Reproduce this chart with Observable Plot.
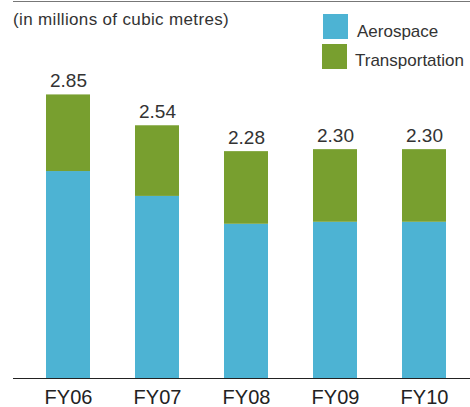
<!DOCTYPE html>
<html>
<head>
<meta charset="utf-8">
<script src="https://cdn.jsdelivr.net/npm/d3@7"></script>
<script src="https://cdn.jsdelivr.net/npm/@observablehq/plot@0.6"></script>
<style>
  html, body { margin: 0; padding: 0; background: #fff; }
  #wrap { position: relative; width: 470px; height: 407px; overflow: hidden;
          font-family: "Liberation Sans", Arial, Helvetica, sans-serif; color: #333; }
  #chart { position: absolute; left: 0; top: 0; }
  .abs { position: absolute; white-space: nowrap; }
  .sw { position: absolute; width: 25px; height: 25px; }
</style>
</head>
<body>
<div id="wrap">
  <div id="chart"></div>
  <div class="abs" style="left:13px; top:1px; width:457px; height:0; border-top:1.2px solid #777;"></div>
  <div class="abs" id="subtitle" style="left:13px; top:11px; font-size:17px; line-height:17px; letter-spacing:0.35px;"></div>
  <div id="legend"></div>
</div>
<script>
// ---- data ----
const years = ["FY06", "FY07", "FY08", "FY09", "FY10"];
const aerospace = [2.08, 1.83, 1.55, 1.57, 1.57];
const transportation = [0.77, 0.71, 0.73, 0.73, 0.73];
const totals = [2.85, 2.54, 2.28, 2.30, 2.30];
const seriesNames = ["Aerospace", "Transportation"];
const seriesColors = ["#4db3d3", "#789f2f"];
const subtitleText = "(in millions of cubic metres)";

// long table built from the arrays
const rows = [];
years.forEach((y, i) => {
  rows.push({year: y, segment: seriesNames[0], value: aerospace[i]});
  rows.push({year: y, segment: seriesNames[1], value: transportation[i]});
});

const chart = Plot.plot({
  width: 470,
  height: 407,
  marginLeft: 13,
  marginRight: 0,
  marginTop: 0,
  marginBottom: 29,
  style: {fontFamily: '"Liberation Sans", Arial, Helvetica, sans-serif', color: "#333", background: "transparent", overflow: "visible"},
  x: {type: "band", domain: years, range: [45, 446], paddingInner: 0.507, paddingOuter: 0, axis: null},
  y: {domain: [0, 3.5], range: [378, 378 - 3.5 * 99.5], axis: null},
  color: {domain: seriesNames, range: seriesColors},
  marks: [
    Plot.barY(rows, {x: "year", y: "value", fill: "segment", insetLeft: 0, insetRight: 0}),
    Plot.text(totals, {x: years, y: totals, text: totals.map(v => v.toFixed(2)),
      lineAnchor: "bottom", dy: -8, fontSize: 19, fill: "#333", style: "letter-spacing:0.3px"}),
    Plot.ruleY([0], {stroke: "#222", strokeWidth: 1.2}),
    Plot.axisX({tickSize: 0, tickPadding: 11, fontSize: 20, label: null, fill: "#222"})
  ]
});
document.getElementById("chart").appendChild(chart);

document.getElementById("subtitle").textContent = subtitleText;

// legend
const legend = document.getElementById("legend");
const swatchPos = [[323, 14], [322, 44]];
const labelPos = [[357, 23], [355, 52]];
seriesNames.forEach((name, i) => {
  const sw = document.createElement("div");
  sw.className = "sw";
  sw.style.left = swatchPos[i][0] + "px";
  sw.style.top = swatchPos[i][1] + "px";
  sw.style.background = seriesColors[i];
  legend.appendChild(sw);
  const lb = document.createElement("div");
  lb.className = "abs";
  lb.style.left = labelPos[i][0] + "px";
  lb.style.top = labelPos[i][1] + "px";
  lb.style.fontSize = "17px";
  lb.style.lineHeight = "17px";
  lb.textContent = name;
  legend.appendChild(lb);
});
</script>
</body>
</html>
